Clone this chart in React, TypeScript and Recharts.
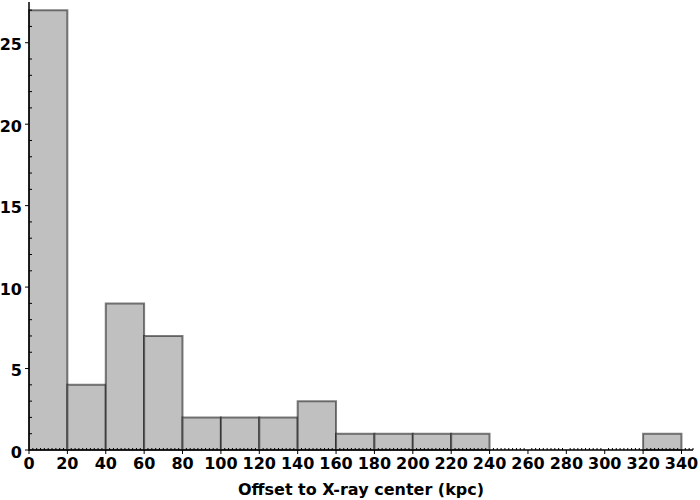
import React from 'react';
import { ComposedChart, Bar, XAxis, YAxis } from 'recharts';

const binStarts = [0, 20, 40, 60, 80, 100, 120, 140, 160, 180, 200, 220, 240, 260, 280, 300, 320];
const counts = [27, 4, 9, 7, 2, 2, 2, 3, 1, 1, 1, 1, 0, 0, 0, 0, 1];
const binWidth = 20;
const xTicks = Array.from({ length: 174 }, (_, i) => i * 2);
const yTicks = Array.from({ length: 28 }, (_, i) => i);
const xLabel = 'Offset to X-ray center (kpc)';

const data = binStarts.map((s, i) => ({ x: s + binWidth / 2, count: counts[i] }));

const FONT = 'DejaVu Sans';
const TS = 4;
const TM = 2;

const XTick = (props: any) => {
  const { x, y, payload } = props;
  const v = payload.value;
  const ay = y - TS - TM;
  if (v % 20 === 0) {
    return (
      <g>
        <line x1={x} x2={x} y1={ay} y2={ay + 4} stroke="#000" strokeWidth={1} />
        <text x={x} y={ay + 19} textAnchor="middle" fontFamily={FONT} fontWeight="bold" fontSize={16} fill="#000">{v}</text>
      </g>
    );
  }
  return <line x1={x} x2={x} y1={ay} y2={ay - 2} stroke="#000" strokeWidth={1} />;
};

const YTick = (props: any) => {
  const { x, y, payload } = props;
  const v = payload.value;
  const ax = x + TS + TM;
  if (v % 5 === 0) {
    return (
      <g>
        <line x1={ax} x2={ax - 4} y1={y} y2={y} stroke="#000" strokeWidth={1} />
        <text x={ax - 7} y={y} dy="0.48em" textAnchor="end" fontFamily={FONT} fontWeight="bold" fontSize={16} fill="#000">{v}</text>
      </g>
    );
  }
  return <line x1={ax} x2={ax + 3} y1={y} y2={y} stroke="#000" strokeWidth={1} />;
};

export default function App() {
  return (
    <div style={{ position: 'absolute', left: 0, top: 0, background: '#fff' }}>
      <ComposedChart
        width={700}
        height={500}
        data={data}
        margin={{ top: 2, right: 7, bottom: 0, left: 0 }}
        barCategoryGap={0}
        barGap={0}
      >
        <XAxis
          xAxisId="main"
          dataKey="x"
          type="number"
          domain={[0, 346]}
          ticks={xTicks}
          interval={0}
          height={50}
          tickSize={TS}
          tickMargin={TM}
          tickLine={false}
          tick={<XTick />}
          axisLine={{ stroke: '#000', strokeWidth: 1.5 }}
          label={{ value: xLabel, position: 'insideBottom', offset: 5, fontFamily: FONT, fontWeight: 'bold', fontSize: 16, fill: '#000' }}
        />
        <XAxis
          xAxisId="top"
          orientation="top"
          dataKey="x"
          type="number"
          domain={[0, 346]}
          height={0}
          tick={false}
          tickLine={false}
          axisLine={{ stroke: '#000', strokeWidth: 1.5 }}
        />
        <YAxis
          yAxisId="main"
          type="number"
          domain={[0, 27.5]}
          ticks={yTicks}
          interval={0}
          width={29}
          tickSize={TS}
          tickMargin={TM}
          tickLine={false}
          tick={<YTick />}
          axisLine={{ stroke: '#000', strokeWidth: 1.5 }}
        />
        <YAxis
          yAxisId="right"
          orientation="right"
          type="number"
          domain={[0, 27.5]}
          width={0}
          tick={false}
          tickLine={false}
          axisLine={{ stroke: '#000', strokeWidth: 1.5 }}
        />
        <Bar
          xAxisId="main"
          yAxisId="main"
          dataKey="count"
          fill="#c0c0c0"
          stroke="rgba(0,0,0,0.5)"
          strokeWidth={2}
          barSize={38.35}
          isAnimationActive={false}
        />
      </ComposedChart>
    </div>
  );
}
